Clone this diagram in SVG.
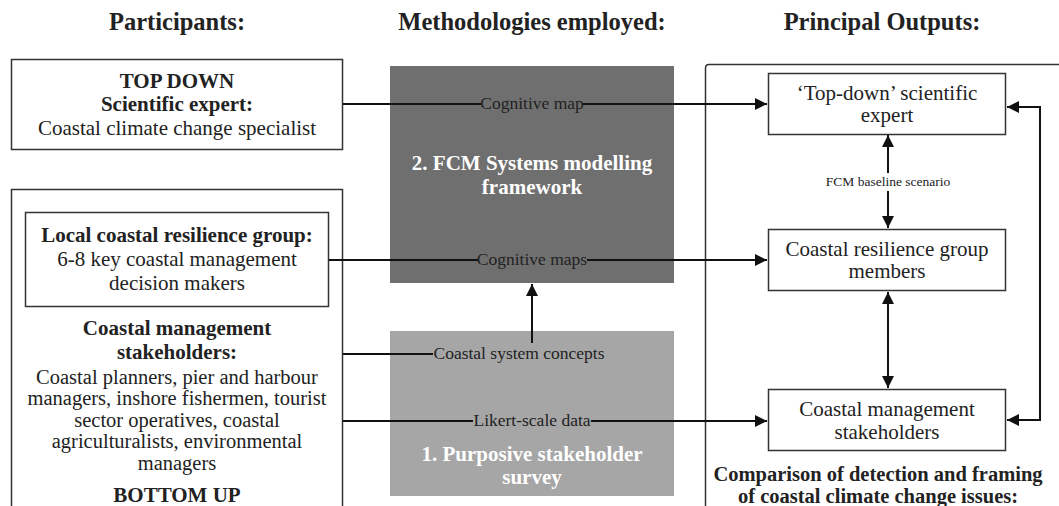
<svg xmlns="http://www.w3.org/2000/svg" width="1059" height="506" viewBox="0 0 1059 506">
<style>
text{font-family:"Liberation Serif","DejaVu Serif",serif;fill:#222;text-anchor:middle}
.h{font-size:24.5px;font-weight:bold}
.b{font-size:21px;font-weight:bold}
.c{font-size:20.5px;font-weight:bold}
.t{font-size:21px}
.tb{font-size:20.5px}
.w{font-size:21px;font-weight:bold;fill:#fff}
.l{font-size:17.5px}
.s{font-size:13.5px}
.box{fill:#fff;stroke:#333;stroke-width:1.5}
.ln{fill:none;stroke:#111;stroke-width:2}
</style>
<defs>
<marker id="ah" viewBox="0 0 10 10" refX="10" refY="5" markerWidth="8" markerHeight="6" markerUnits="strokeWidth" orient="auto-start-reverse">
<path d="M0,0 L10,5 L0,10 z" fill="#111"/>
</marker>
</defs>
<g id="headers">
<text class="h" x="177" y="30">Participants:</text>
<text class="h" x="532" y="30">Methodologies employed:</text>
<text class="h" x="882" y="30">Principal Outputs:</text>
</g>
<g id="topdown">
<rect class="box" x="11.5" y="59.5" width="331" height="90"/>
<text class="b" x="177" y="88">TOP DOWN</text>
<text class="b" x="177" y="111">Scientific expert:</text>
<text class="t" x="177" y="135">Coastal climate change specialist</text>
</g>
<g id="bottomup">
<rect class="box" x="11.5" y="189.5" width="331" height="330"/>
<text class="b" x="177" y="335">Coastal management</text>
<text class="b" x="177" y="359">stakeholders:</text>
<text class="tb" x="177" y="384">Coastal planners, pier and harbour</text>
<text class="tb" x="177" y="405">managers, inshore fishermen, tourist</text>
<text class="tb" x="177" y="427">sector operatives, coastal</text>
<text class="tb" x="177" y="448">agriculturalists, environmental</text>
<text class="tb" x="177" y="470">managers</text>
<text class="b" x="177" y="502">BOTTOM UP</text>
</g>
<g id="localgroup">
<rect class="box" x="25.5" y="212.5" width="303" height="94"/>
<text class="b" x="177" y="242">Local coastal resilience group:</text>
<text class="t" x="177" y="266">6-8 key coastal management</text>
<text class="t" x="177" y="290">decision makers</text>
</g>
<g id="fcm">
<rect x="390" y="66" width="284" height="217" fill="#6f6f6f"/>
<text class="w" x="532" y="170">2. FCM Systems modelling</text>
<text class="w" x="532" y="194">framework</text>
</g>
<g id="survey">
<rect x="390" y="331" width="284" height="165" fill="#a6a6a6"/>
<text class="w" x="532" y="461">1. Purposive stakeholder</text>
<text class="w" x="532" y="484">survey</text>
</g>
<g id="outputs">
<path d="M705.5,520 V68 Q705.5,64.5 709,64.5 H1070" fill="none" stroke="#333" stroke-width="1.5"/>
<text class="c" x="878" y="481">Comparison of detection and framing</text>
<text class="c" x="878" y="503">of coastal climate change issues:</text>
</g>
<g id="out-expert">
<rect class="box" x="768.5" y="73.5" width="237" height="61"/>
<text class="t" x="887" y="100">‘Top-down’ scientific</text>
<text class="t" x="887" y="122">expert</text>
</g>
<g id="out-group">
<rect class="box" x="768.5" y="229.5" width="237" height="61"/>
<text class="t" x="887" y="256">Coastal resilience group</text>
<text class="t" x="887" y="278">members</text>
</g>
<g id="out-stake">
<rect class="box" x="768.5" y="389.5" width="237" height="61"/>
<text class="t" x="887" y="416">Coastal management</text>
<text class="t" x="887" y="439">stakeholders</text>
</g>
<g id="connectors">
<path class="ln" d="M343,104 H481"/>
<path class="ln" d="M583,104 H767" marker-end="url(#ah)"/>
<text class="l" x="532" y="109">Cognitive map</text>
<path class="ln" d="M329,260 H478"/>
<path class="ln" d="M587,260 H767" marker-end="url(#ah)"/>
<text class="l" x="532" y="265">Cognitive maps</text>
<path class="ln" d="M343,354 H433"/>
<text class="l" x="519" y="359">Coastal system concepts</text>
<path class="ln" d="M532,343 V284" marker-end="url(#ah)"/>
<path class="ln" d="M343,421 H473"/>
<path class="ln" d="M591,421 H767" marker-end="url(#ah)"/>
<text class="l" x="532" y="426">Likert-scale data</text>
<path class="ln" d="M888,173 V135" marker-end="url(#ah)"/>
<path class="ln" d="M888,191 V228" marker-end="url(#ah)"/>
<text class="s" x="888" y="186">FCM baseline scenario</text>
<path class="ln" d="M888,292 V388" marker-start="url(#ah)" marker-end="url(#ah)"/>
<path class="ln" d="M1007,107 H1040 V420 H1007" marker-start="url(#ah)" marker-end="url(#ah)"/>
</g>
</svg>
